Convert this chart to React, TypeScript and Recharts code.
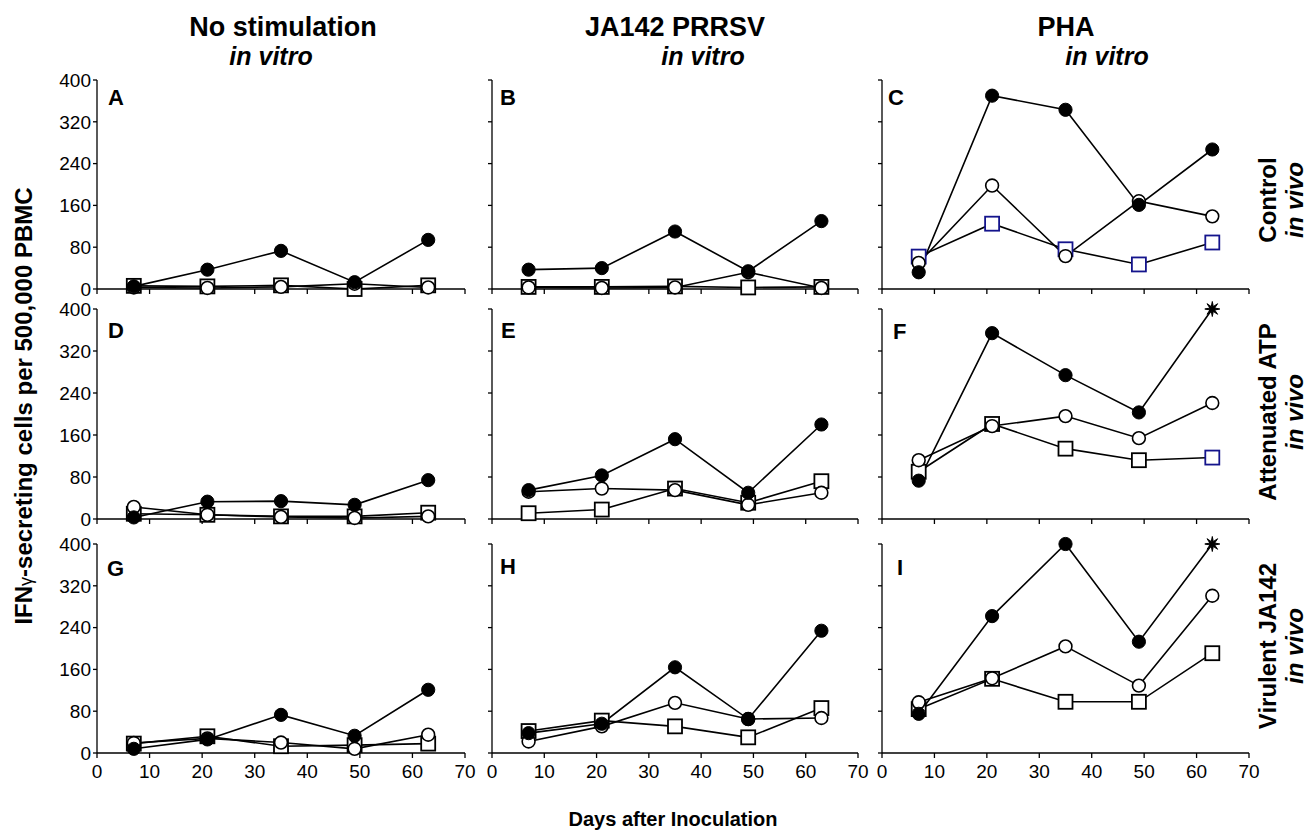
import React from 'react';
import { LineChart, Line, XAxis, YAxis } from 'recharts';

// Days after inoculation (x values)
const days = [7, 21, 35, 49, 63];
const xTicks = [0, 10, 20, 30, 40, 50, 60, 70];
const yTicks = [0, 80, 160, 240, 320, 400];

// Column headers (in vitro stimulation) and row labels (in vivo groups)
const colHeaders = ['No stimulation', 'JA142 PRRSV', 'PHA'];
const rowLabels = ['Control', 'Attenuated ATP', 'Virulent JA142'];
const panelLetters = ['A', 'B', 'C', 'D', 'E', 'F', 'G', 'H', 'I'];

// Values per panel: filled circles, open circles, open squares
const filledA = [5, 37, 73, 13, 94];
const openA = [3, 2, 4, 10, 3];
const squareA = [6, 5, 7, 0, 7];

const filledB = [37, 40, 110, 34, 130];
const openB = [3, 2, 3, 32, 2];
const squareB = [4, 4, 5, 3, 4];

const filledC = [32, 370, 343, 161, 267];
const openC = [50, 198, 63, 168, 139];
const squareC = [62, 125, 76, 47, 89];

const filledD = [3, 33, 34, 27, 74];
const openD = [23, 8, 4, 2, 5];
const squareD = [10, 8, 5, 5, 12];

const filledE = [55, 83, 152, 50, 180];
const openE = [52, 58, 55, 27, 50];
const squareE = [11, 18, 58, 31, 72];

const filledF = [73, 354, 274, 203, 400];
const openF = [112, 177, 196, 154, 221];
const squareF = [90, 181, 134, 112, 117];

const filledG = [8, 26, 73, 33, 121];
const openG = [19, 28, 20, 8, 35];
const squareG = [18, 32, 13, 15, 18];

const filledH = [38, 56, 164, 65, 234];
const openH = [22, 51, 96, 65, 67];
const squareH = [42, 62, 51, 30, 86];

const filledI = [75, 262, 400, 213, 400];
const openI = [97, 143, 204, 129, 301];
const squareI = [84, 142, 98, 98, 191];

// Points drawn as asterisks (value off scale) and squares drawn in navy
const starPointsF = [4];
const starPointsI = [4];
const navySquaresC = [0, 1, 2, 3, 4];
const navySquaresF = [4];

const panels = [
  { filled: filledA, open: openA, square: squareA, stars: [] as number[], navy: [] as number[] },
  { filled: filledB, open: openB, square: squareB, stars: [], navy: [] },
  { filled: filledC, open: openC, square: squareC, stars: [], navy: navySquaresC },
  { filled: filledD, open: openD, square: squareD, stars: [], navy: [] },
  { filled: filledE, open: openE, square: squareE, stars: [], navy: [] },
  { filled: filledF, open: openF, square: squareF, stars: starPointsF, navy: navySquaresF },
  { filled: filledG, open: openG, square: squareG, stars: [], navy: [] },
  { filled: filledH, open: openH, square: squareH, stars: [], navy: [] },
  { filled: filledI, open: openI, square: squareI, stars: starPointsI, navy: [] },
];

const FONT = '"Liberation Sans", Arial, Helvetica, sans-serif';
const NAVY = '#14148c';

const colLeft = [97, 492, 882];
const colWidth = [368, 366, 367];
const rowTop = [80, 309, 544];
const rowHeight = [209, 210, 209];

const YW = 45;
const RM = 12;
const TM = 12;
const XH = 40;

const starPath = (cx: number, cy: number) => {
  const pts: string[] = [];
  const n = 8;
  for (let i = 0; i < n * 2; i++) {
    const r = i % 2 === 0 ? 7.5 : 2.6;
    const a = (Math.PI * i) / n - Math.PI / 2;
    pts.push(`${(cx + r * Math.cos(a)).toFixed(2)},${(cy + r * Math.sin(a)).toFixed(2)}`);
  }
  return pts.join(' ');
};

const makeFilledDot = (stars: number[]) => (props: any) => {
  const { cx, cy, index } = props;
  if (cx == null || cy == null) return <g key={`f${index}`} />;
  if (stars.includes(index)) {
    return <polygon key={`f${index}`} points={starPath(cx, cy)} fill="#000" stroke="#000" strokeWidth={1} />;
  }
  return <circle key={`f${index}`} cx={cx} cy={cy} r={6.6} fill="#000" stroke="#000" strokeWidth={1} />;
};

const openDot = (props: any) => {
  const { cx, cy, index } = props;
  if (cx == null || cy == null) return <g key={`o${index}`} />;
  return <circle key={`o${index}`} cx={cx} cy={cy} r={6.4} fill="#fff" stroke="#000" strokeWidth={1.6} />;
};

const makeSquareDot = (navy: number[]) => (props: any) => {
  const { cx, cy, index } = props;
  if (cx == null || cy == null) return <g key={`s${index}`} />;
  return (
    <rect
      key={`s${index}`}
      x={cx - 7}
      y={cy - 7}
      width={14}
      height={14}
      fill="#fff"
      stroke={navy.includes(index) ? NAVY : '#000'}
      strokeWidth={1.8}
    />
  );
};

function Panel({ idx }: { idx: number }) {
  const col = idx % 3;
  const row = Math.floor(idx / 3);
  const p = panels[idx];
  const data = days.map((d, i) => ({ day: d, filled: p.filled[i], open: p.open[i], square: p.square[i] }));
  const pw = colWidth[col];
  const ph = rowHeight[row];
  const showX = row === 2;
  const showY = col === 0;
  const axisStyle = { stroke: '#000', strokeWidth: 1.3 };
  return (
    <div style={{ position: 'absolute', left: colLeft[col] - YW, top: rowTop[row] - TM }}>
      <LineChart width={YW + pw + RM} height={TM + ph + XH} data={data} margin={{ top: TM, right: RM, bottom: 0, left: 0 }}>
        <XAxis
          type="number"
          dataKey="day"
          domain={[0, 70]}
          ticks={xTicks}
          interval={0}
          height={XH}
          axisLine={axisStyle}
          tickLine={axisStyle}
          tickSize={5}
          tickMargin={7}
          tick={{ fill: '#000', fontSize: 19, fontFamily: FONT }}
          tickFormatter={(v: number) => (showX ? String(v) : '')}
        />
        <YAxis
          type="number"
          domain={[0, 400]}
          ticks={yTicks}
          interval={0}
          width={YW}
          axisLine={axisStyle}
          tickLine={axisStyle}
          tickSize={4}
          tickMargin={2}
          tick={{ fill: '#000', fontSize: 19, fontFamily: FONT }}
          tickFormatter={(v: number) => (showY ? String(v) : '')}
        />
        <Line
          dataKey="square"
          stroke="#000"
          strokeWidth={1.6}
          dot={makeSquareDot(p.navy)}
          activeDot={false}
          isAnimationActive={false}
        />
        <Line
          dataKey="open"
          stroke="#000"
          strokeWidth={1.6}
          dot={openDot}
          activeDot={false}
          isAnimationActive={false}
        />
        <Line
          dataKey="filled"
          stroke="#000"
          strokeWidth={1.6}
          dot={makeFilledDot(p.stars)}
          activeDot={false}
          isAnimationActive={false}
        />
      </LineChart>
    </div>
  );
}

const letterPos = [
  [108, 105], [500, 105], [888, 105],
  [108, 338], [501, 338], [893, 339],
  [107, 576], [500, 574], [897, 575],
];

const headerCenters = [283, 675, 1066];
const vitroCenters = [271, 703, 1107];
const rowLabelCenters = [200, 412, 646];

export default function App() {
  return (
    <div style={{ position: 'absolute', left: 0, top: 0, width: 1307, height: 833, background: '#fff', fontFamily: FONT }}>
      {panels.map((_, i) => (
        <Panel key={i} idx={i} />
      ))}
      <svg width={1307} height={833} style={{ position: 'absolute', left: 0, top: 0, pointerEvents: 'none' }}>
        {colHeaders.map((h, i) => (
          <g key={h} fontFamily={FONT} fontWeight="bold" fill="#000" textAnchor="middle">
            <text x={headerCenters[i]} y={36} fontSize={27}>{h}</text>
            <text x={vitroCenters[i]} y={65} fontSize={25} fontStyle="italic">in vitro</text>
          </g>
        ))}
        {rowLabels.map((r, i) => (
          <g key={r} fontFamily={FONT} fontWeight="bold" fontSize={24} fill="#000" textAnchor="middle">
            <text transform={`translate(1276,${rowLabelCenters[i]}) rotate(-90)`}>{r}</text>
            <text transform={`translate(1303,${rowLabelCenters[i]}) rotate(-90)`} fontStyle="italic">in vivo</text>
          </g>
        ))}
        {panelLetters.map((l, i) => (
          <text key={l} x={letterPos[i][0]} y={letterPos[i][1]} fontFamily={FONT} fontWeight="bold" fontSize={22} fill="#000">
            {l}
          </text>
        ))}
        <text
          transform="translate(32,406) rotate(-90)"
          textAnchor="middle"
          fontFamily={FONT}
          fontWeight="bold"
          fontSize={24}
          fill="#000"
        >
          IFN<tspan fontSize={18} fontWeight="normal">γ</tspan>-secreting cells per 500,000 PBMC
        </text>
        <text x={673} y={826} textAnchor="middle" fontFamily={FONT} fontWeight="bold" fontSize={20} fill="#000">
          Days after Inoculation
        </text>
      </svg>
    </div>
  );
}
